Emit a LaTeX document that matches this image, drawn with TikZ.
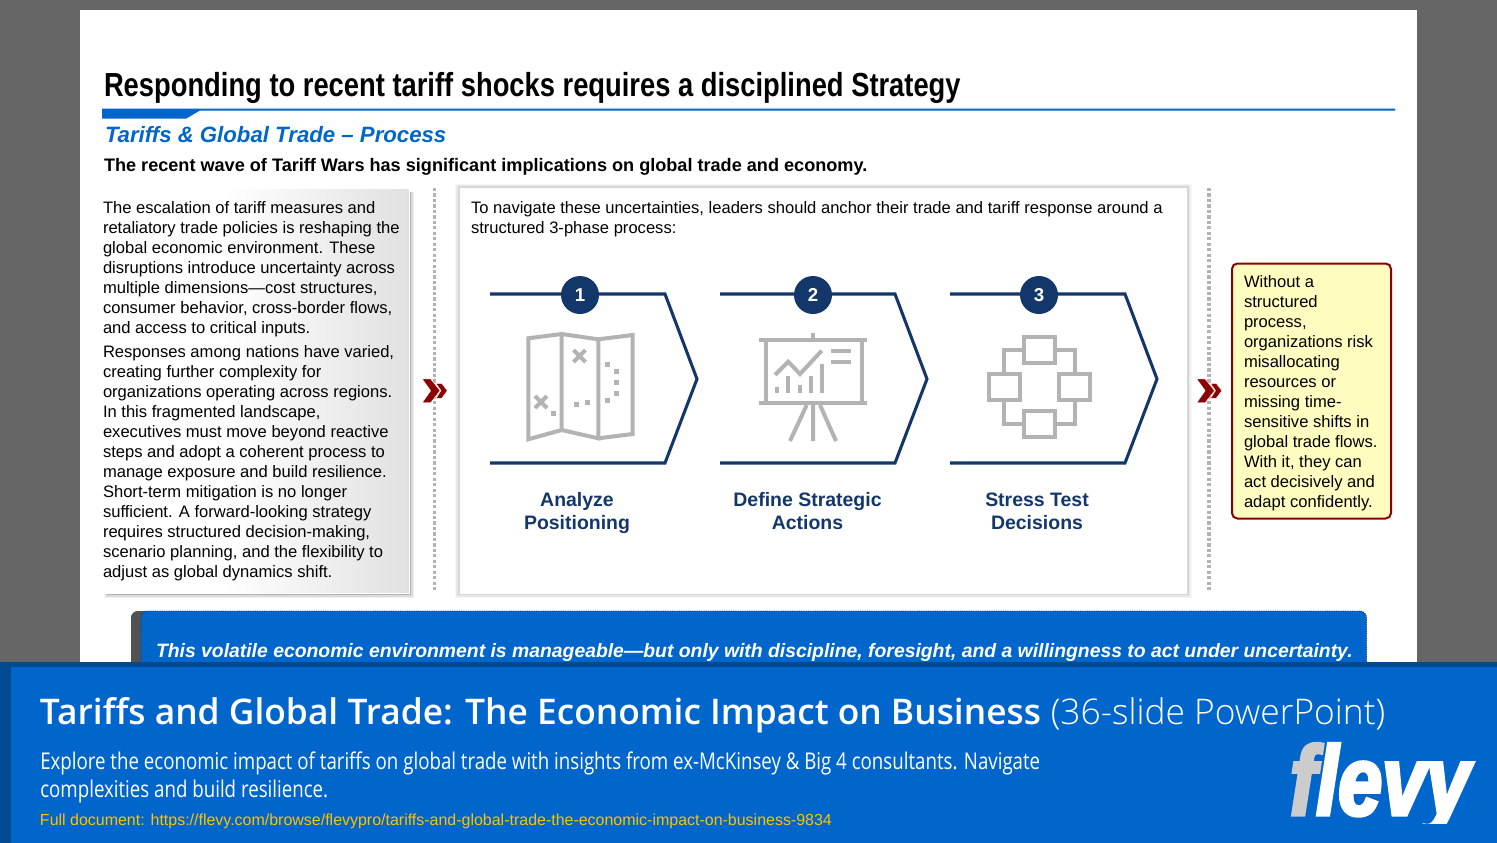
\documentclass[tikz,border=0pt]{standalone}
\usepackage{fontspec}
\setmainfont{Liberation Sans}
\newfontfamily\narrowbold[FakeStretch=0.82]{Liberation Sans Bold}
\newfontfamily\osb{Open Sans}[UprightFont=* Semibold]
\newfontfamily\osl{Open Sans}[UprightFont=* Light]
\newfontfamily\osn[FakeStretch=0.81]{Open Sans}
\newfontfamily\logof[FakeStretch=0.8,FakeBold=3.5]{Liberation Sans Bold Italic}
\definecolor{bandblue}{HTML}{0066CC}
\definecolor{banddark}{HTML}{004A94}
\definecolor{navy}{HTML}{14376B}
\definecolor{icong}{HTML}{B3B3B3}
\definecolor{maroon}{HTML}{8B0000}
\definecolor{linkgold}{HTML}{FFC000}
\pgfdeclarehorizontalshading{panelshade}{100bp}{color(0bp)=(white);color(45bp)=(white);color(78bp)=(black!13);color(100bp)=(black!24)}
\tikzset{
  txt/.style={anchor=base west,inner sep=0pt,outer sep=0pt},
  para/.style={anchor=north west,inner sep=0pt,outer sep=0pt,align=left,font=\fontsize{12.43pt}{15pt}\selectfont},
  route/.style={line width=2.3pt,draw=navy,line join=miter},
  numdot/.style={circle,fill=navy,text=white,minimum size=28.5pt,inner sep=0pt,font=\bfseries\fontsize{14pt}{15pt}\selectfont},
  ico/.style={line width=3pt,draw=icong,line join=miter},
  icofine/.style={fill=icong,draw=none},
  steplabel/.style={anchor=center,align=center,inner sep=0pt,font=\bfseries\fontsize{14.6pt}{17.2pt}\selectfont,text=navy},
  dotline/.style={draw=icong,line width=2.4pt,dash pattern=on 2.4pt off 1.7pt},
  chev/.style={fill=maroon,draw=white,line width=.3pt},
}
\begin{document}
\begin{tikzpicture}[x=0.75pt,y=-0.75pt]
\useasboundingbox (0,0) rectangle (1497,843);
% backdrop
\fill[fill=black!60] (0,0) rectangle (1497,843);
\fill[white] (80,10) rectangle (1417,680);
% title
\node[txt,font=\narrowbold\fontsize{25pt}{28pt}\selectfont] (title) at (104,96.5) {Responding to recent tariff shocks requires a disciplined Strategy};
\fill[bandblue] (102,108.5) -- (1395,108.5) -- (1395,110.5) -- (200,110.5) -- (186,118.7) -- (102,118.7) -- cycle;
\node[txt,font=\bfseries\itshape\fontsize{16.65pt}{20pt}\selectfont,text=bandblue] (sub) at (105,142) {Tariffs \& Global Trade -- Process};
\node[txt,font=\bfseries\fontsize{13.58pt}{16pt}\selectfont] (lead) at (104,171) {The recent wave of Tariff Wars has significant implications on global trade and economy.};
% left panel
\fill[black!6] (104,192) rectangle (414,598);
\fill[black!14] (106,192) rectangle (412.5,596.5);
\fill[black!30] (106,192) rectangle (411,595);
\shade[shading=panelshade] (100,189) rectangle (409.5,593.5);
\draw[white,line width=.6pt] (100,593.5) -- (409.5,593.5) -- (409.5,189);
\node[para] (p1) at (103,201.5) {The escalation of tariff measures and\\retaliatory trade policies is reshaping the\\global economic environment. These\\disruptions introduce uncertainty across\\multiple dimensions---cost structures,\\consumer behavior, cross-border flows,\\and access to critical inputs.};
\node[para] (p2) at (103,345.5) {Responses among nations have varied,\\creating further complexity for\\organizations operating across regions.\\In this fragmented landscape,\\executives must move beyond reactive\\steps and adopt a coherent process to\\manage exposure and build resilience.\\Short-term mitigation is no longer\\sufficient. A forward-looking strategy\\requires structured decision-making,\\scenario planning, and the flexibility to\\adjust as global dynamics shift.};
% separators
\draw[dotline] (434.5,188) -- (434.5,591);
\draw[dotline] (1209,188) -- (1209,591);
\fill[chev] (422.3,379) -- (430.7,379) -- (440,390.7) -- (430.7,402.7) -- (422.3,402.7) -- (430.7,390.7) -- cycle;
\fill[chev] (436,383.3) -- (441.7,383.3) -- (447.3,390.7) -- (441.7,398.3) -- (436,398.3) -- (441,390.7) -- cycle;
\fill[chev] (1196.8,379) -- (1205.2,379) -- (1214.5,390.7) -- (1205.2,402.7) -- (1196.8,402.7) -- (1205.2,390.7) -- cycle;
\fill[chev] (1210.5,383.3) -- (1216.2,383.3) -- (1221.8,390.7) -- (1216.2,398.3) -- (1210.5,398.3) -- (1215.5,390.7) -- cycle;
% centre panel
\fill[black!4] (454.5,183.5) rectangle (1191.5,598);
\fill[black!9] (456,185) rectangle (1190,596.5);
\fill[black!16] (457.5,186) rectangle (1188.5,595);
\fill[white] (459.5,187.5) rectangle (1187,593.5);
\node[para] (intro) at (471,201.5) {To navigate these uncertainties, leaders should anchor their trade and tariff response around a\\structured 3-phase process:};
% routes
\draw[route] (490,294) -- (665,294) -- (697,379) -- (665,463) -- (490,463);
\draw[route] (720,294) -- (895,294) -- (927,379) -- (895,463) -- (720,463);
\draw[route] (950,294) -- (1125,294) -- (1157,379) -- (1125,463) -- (950,463);
\node[numdot] (n1) at (580,295) {1};
\node[numdot] (n2) at (813,295) {2};
\node[numdot] (n3) at (1039,295) {3};
% map icon
\draw[ico] (528.3,338.3) -- (561.7,334) -- (561.7,430) -- (528.3,439.3) -- cycle;
\draw[ico] (561.7,334) -- (598.3,339.3) -- (598.3,438.3) -- (561.7,430);
\draw[ico] (598.3,339.3) -- (632.7,335) -- (632.7,434) -- (598.3,438.3);
\draw[ico] (573.5,350) -- (585.5,362) (585.5,350) -- (573.5,362);
\draw[ico] (535,396) -- (547,408) (547,396) -- (535,408);
\foreach \p in {(607.3,364.3),(616.3,371.3),(616.3,382.3),(616.3,393.7),(607.3,400.3),(587.3,402.7),(576.3,404.7),(553.3,413.7)}{
  \fill[icofine] \p ++(-2.3,-2.3) rectangle ++(4.6,4.6);
}
% board icon
\draw[ico] (766,340) rectangle (861.7,403.3);
\draw[ico] (759,340) -- (866.7,340) (759,403.3) -- (866.7,403.3) (813,332.7) -- (813,340);
\draw[ico] (813,403) -- (813,441) (806.7,405) -- (790,441) (820,405) -- (836,441);
\draw[ico] (775,375) -- (788.3,361.7) -- (800,374) -- (821.7,350.7);
\draw[ico] (777.3,393.3) -- (777.3,386.7) (788.3,393.3) -- (788.3,376) (799.7,393.3) -- (799.7,385) (811,393.3) -- (811,376) (822.3,393.3) -- (822.3,364);
\draw[ico] (830.7,350.7) -- (851,350.7) (830.7,362.3) -- (851,362.3);
% network icon
\draw[ico] (1024,336.7) rectangle (1055,362.7);
\draw[ico] (1024,410.7) rectangle (1055,436.7);
\draw[ico] (989,374) rectangle (1020,400);
\draw[ico] (1059,374) rectangle (1090,400);
\draw[ico] (1024,350) -- (1004,350) -- (1004,374);
\draw[ico] (1055,350) -- (1074.7,350) -- (1074.7,374);
\draw[ico] (1004,400) -- (1004,423.7) -- (1024,423.7);
\draw[ico] (1074.7,400) -- (1074.7,423.7) -- (1055,423.7);
% step labels
\node[steplabel] (l1) at (577,513) {Analyze\\Positioning};
\node[steplabel] (l2) at (807.5,511) {Define Strategic\\Actions};
\node[steplabel] (l3) at (1037,511) {Stress Test\\Decisions};
% note
\draw[draw=maroon,fill=yellow!25!white,line width=1.5pt,rounded corners=4pt] (1232,263.5) rectangle (1391,518.5);
\node[para] (note) at (1244,275.5) {Without a\\structured\\process,\\organizations risk\\misallocating\\resources or\\missing time-\\sensitive shifts in\\global trade flows.\\With it, they can\\act decisively and\\adapt confidently.};
% banner
\fill[black!68,rounded corners=5pt] (131,611) rectangle (1200,700);
\draw[fill=bandblue,draw=navy,line width=.7pt,densely dotted,rounded corners=5pt] (141,611) rectangle (1366.5,720);
\node[txt,font=\bfseries\itshape\fontsize{14.52pt}{17pt}\selectfont,text=white] (bannertxt) at (156,657) {This volatile economic environment is manageable---but only with discipline, foresight, and a willingness to act under uncertainty.};
% footer
\fill[banddark] (0,662) rectangle (1497,843);
\fill[bandblue] (11,667) rectangle (1497,843);
\node[txt,text=white,font=\fontsize{26.5pt}{30pt}\selectfont] (ft) at (40,724) {{\osb Tariffs and Global Trade: The Economic Impact on Business} {\osl(36-slide PowerPoint)}};
\node[anchor=north west,inner sep=0pt,align=left,text=white,font=\osn\fontsize{17.3pt}{21pt}\selectfont] (fs) at (40,751.5) {Explore the economic impact of tariffs on global trade with insights from ex-McKinsey \& Big 4 consultants. Navigate\\complexities and build resilience.};
\node[txt,text=linkgold,font=\fontsize{11.98pt}{14pt}\selectfont] (fl) at (40,825) {Full document: https://flevy.com/browse/flevypro/tariffs-and-global-trade-the-economic-impact-on-business-9834};
\begin{scope}
\clip (1280,735) rectangle (1490,823);
\node[txt,font=\logof\fontsize{74pt}{74pt}\selectfont,text=white] (logo) at (1290,815) {{\color{black!20}f}levy};
\end{scope}
\end{tikzpicture}
\end{document}
